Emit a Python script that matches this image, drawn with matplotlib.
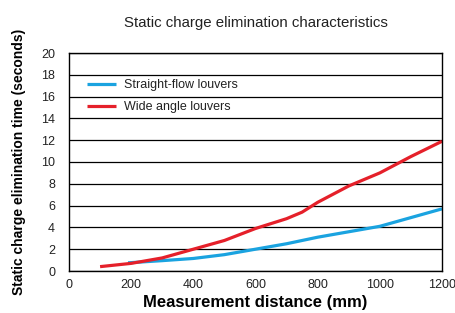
import matplotlib.pyplot as plt

# distance (mm) vs elimination time (s)
dist_red = [100, 200, 300, 400, 500, 600, 700, 750, 800, 900, 1000, 1100, 1200]
time_red = [0.4, 0.7, 1.2, 2.0, 2.8, 3.9, 4.8, 5.4, 6.3, 7.8, 9.0, 10.5, 11.9]

dist_blue = [190, 300, 400, 500, 600, 700, 800, 900, 1000, 1100, 1200]
time_blue = [0.75, 0.95, 1.15, 1.5, 2.0, 2.5, 3.1, 3.6, 4.1, 4.9, 5.7]

xticks = [0, 200, 400, 600, 800, 1000, 1200]
yticks = list(range(0, 21, 2))

plt.rcParams['font.family'] = ['Liberation Sans', 'DejaVu Sans']

fig = plt.figure(figsize=(4.55, 3.13), dpi=100)
ax = fig.add_axes([69 / 455, 1 - 271 / 313, 373 / 455, 218 / 313])

ax.plot(dist_blue, time_blue, color='#1aa3e0', lw=2.3, label='Straight-flow louvers',
        solid_capstyle='butt')
ax.plot(dist_red, time_red, color='#e5202a', lw=2.3, label='Wide angle louvers',
        solid_capstyle='butt')

ax.set_xlim(0, 1200)
ax.set_ylim(0, 20)
ax.set_xticks(xticks)
ax.set_yticks(yticks)
ax.tick_params(length=0, labelsize=9, colors='#222222')
ax.tick_params(axis='y', pad=10)
ax.tick_params(axis='x', pad=6)
ax.grid(axis='y', color='black', lw=0.9)
ax.set_axisbelow(True)
for s in ax.spines.values():
    s.set_color('black')
    s.set_linewidth(1.0)

ax.set_title('Static charge elimination characteristics',
             fontsize=10.8, color='#222222', pad=19)
ax.set_xlabel('Measurement distance (mm)', fontweight='bold',
              fontsize=12, labelpad=3)
ax.set_ylabel('Static charge elimination time (seconds)',
              fontweight='bold', fontsize=10, labelpad=11)

ax.legend(loc='upper left', bbox_to_anchor=(0.048, 0.88), frameon=False,
          fontsize=9, handlelength=2.3, handletextpad=0.65, labelspacing=0.8,
          borderpad=0, borderaxespad=0, labelcolor='#222222')

fig.savefig('out.png', dpi=100)
